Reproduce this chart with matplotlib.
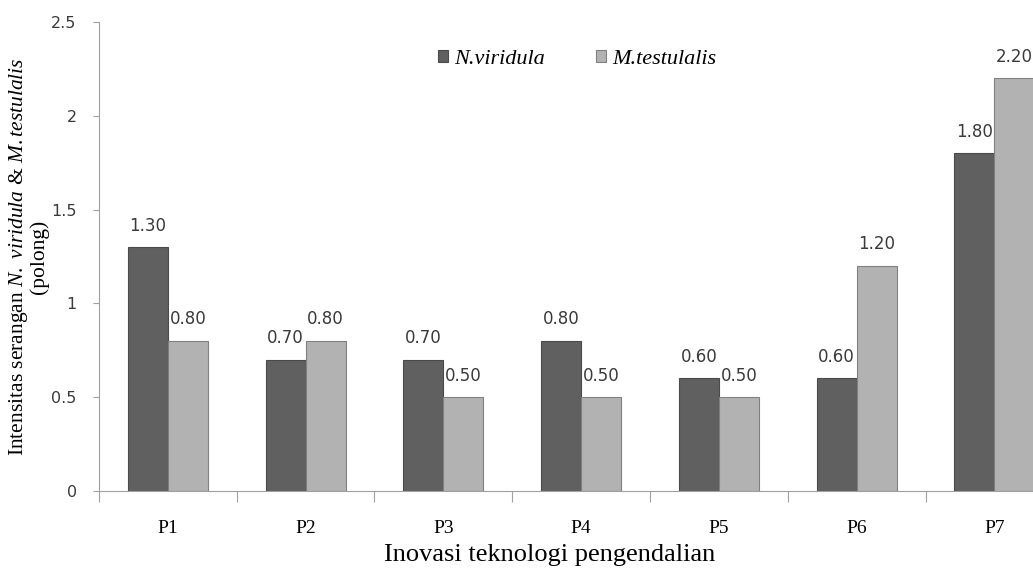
import matplotlib.pyplot as plt
import numpy as np

plt.rcParams['font.family'] = ['Liberation Serif', 'DejaVu Serif']
plt.rcParams['mathtext.fontset'] = 'custom'
plt.rcParams['mathtext.rm'] = 'Liberation Serif'
plt.rcParams['mathtext.it'] = 'Liberation Serif:italic'

# Data
perlakuan = ['P1', 'P2', 'P3', 'P4', 'P5', 'P6', 'P7']
n_viridula = [1.30, 0.70, 0.70, 0.80, 0.60, 0.60, 1.80]
m_testulalis = [0.80, 0.80, 0.50, 0.50, 0.50, 1.20, 2.20]

fig = plt.figure(figsize=(10.33, 5.68), dpi=100)
ax = fig.add_axes([0.0958, 0.1356, 0.9042, 0.8257])

x = np.arange(len(perlakuan))
w = 0.29
b1 = ax.bar(x - w / 2, n_viridula, w, color='#606060', edgecolor='#4a4a4a', linewidth=0.8,
            label='N.viridula')
b2 = ax.bar(x + w / 2, m_testulalis, w, color='#b2b2b2', edgecolor='#808080', linewidth=0.8,
            label='M.testulalis')

# Label nilai di atas batang
for bars, vals in ((b1, n_viridula), (b2, m_testulalis)):
    for rect, v in zip(bars, vals):
        ax.annotate(f'{v:.2f}', (rect.get_x() + rect.get_width() / 2, v),
                    xytext=(0, 9), textcoords='offset points',
                    ha='center', va='bottom', fontsize=12, color='#3a3a3a',
                    family='DejaVu Sans')

ax.set_ylim(0, 2.5)
ax.set_yticks([0, 0.5, 1, 1.5, 2, 2.5])
ax.set_yticklabels(['0', '0.5', '1', '1.5', '2', '2.5'], fontsize=11.5,
                   family='DejaVu Sans', color='#3a3a3a')
ax.set_xlim(-0.5, 6.28)

# Tick kategori di batas, label di tengah
ax.set_xticks(np.arange(len(perlakuan)) - 0.5)
ax.set_xticklabels([])
ax.set_xticks(x, minor=True)
ax.set_xticklabels(perlakuan, minor=True, fontsize=14)
ax.tick_params(axis='x', which='major', length=8, color='#a0a0a0', direction='out')
ax.tick_params(axis='x', which='minor', length=0, pad=21)
ax.tick_params(axis='y', length=4, color='#a0a0a0', direction='out', pad=12)

for s in ['top', 'right']:
    ax.spines[s].set_visible(False)
for s in ['left', 'bottom']:
    ax.spines[s].set_color('#a0a0a0')

ax.set_xlabel('Inovasi teknologi pengendalian', fontsize=19)
ax.xaxis.set_label_coords(0.483, -0.112)
ax.set_ylabel('Intensitas serangan $\\mathit{N.\\ viridula}$ & $\\mathit{M.testulalis}$\n(polong)',
              fontsize=15.5, linespacing=0.95)
ax.yaxis.set_label_coords(-0.053, 0.5)

leg = ax.legend(loc='center', bbox_to_anchor=(0.512, 0.921), ncol=2, frameon=False,
                handlelength=0.45, handleheight=0.45, handletextpad=0.3,
                columnspacing=2.3, prop={'style': 'italic', 'size': 16})

fig.savefig('out.png', dpi=100)
